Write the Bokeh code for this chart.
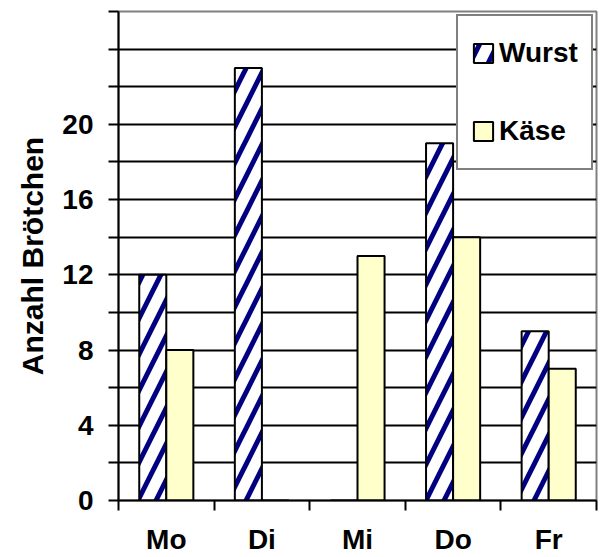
from bokeh.plotting import figure
from bokeh.models import FixedTicker, Range1d, Legend, LegendItem
from bokeh.embed import file_html
from bokeh.resources import INLINE

days = ["Mo", "Di", "Mi", "Do", "Fr"]
wurst = [12, 23, 0, 19, 9]
kaese = [8, 0, 13, 14, 7]
y_ticks = list(range(0, 27, 2))
y_labels = {t: (str(t) if t % 4 == 0 and t <= 20 else "") for t in y_ticks}

FONT = "Liberation Sans"
bw = 0.283
centers = [i + 0.5 for i in range(len(days))]

p = figure(width=600, height=557, output_backend="svg", toolbar_location=None,
           x_range=Range1d(0, len(days)), y_range=Range1d(0, 26),
           min_border_left=118, min_border_right=4, min_border_top=11, min_border_bottom=57)
p.background_fill_color = "white"
p.border_fill_color = "white"
p.outline_line_color = "#808080"
p.outline_line_width = 2

r_w = p.vbar(x=[c - bw / 2 for c in centers], top=wurst, width=bw, bottom=0,
             fill_color="white", hatch_pattern="/", hatch_color="#000080",
             hatch_scale=36, hatch_weight=5, line_color="black", line_width=2)
r_k = p.vbar(x=[c + bw / 2 for c in centers], top=kaese, width=bw, bottom=0,
             fill_color="#FFFFCC", line_color="black", line_width=2)

# x axis
p.xgrid.visible = False
xa = p.xaxis[0]
xa.ticker = FixedTicker(ticks=centers, minor_ticks=list(range(len(days) + 1)))
xa.major_label_overrides = {c: d for c, d in zip(centers, days)}
xa.major_tick_line_color = None
xa.major_tick_out = 10
xa.major_tick_in = 0
xa.minor_tick_out = 10
xa.minor_tick_in = 0
xa.minor_tick_line_color = "black"
xa.minor_tick_line_width = 2
xa.axis_line_color = "black"
xa.axis_line_width = 2
xa.major_label_standoff = 13
xa.major_label_text_font = FONT
xa.major_label_text_font_style = "bold"
xa.major_label_text_font_size = "28px"
xa.major_label_text_color = "black"

# y axis
ya = p.yaxis[0]
ya.ticker = FixedTicker(ticks=y_ticks)
ya.major_label_overrides = y_labels
ya.major_tick_out = 10
ya.major_tick_in = 0
ya.major_tick_line_width = 2
ya.major_tick_line_color = "black"
ya.minor_tick_line_color = None
ya.axis_line_color = "black"
ya.axis_line_width = 2
ya.major_label_standoff = 15
ya.major_label_text_font = FONT
ya.major_label_text_font_style = "bold"
ya.major_label_text_font_size = "28px"
ya.major_label_text_color = "black"
ya.axis_label = "Anzahl Brötchen"
ya.axis_label_text_font = FONT
ya.axis_label_text_font_style = "bold"
ya.axis_label_text_font_size = "30px"
ya.axis_label_text_color = "black"
ya.axis_label_standoff = 10

p.ygrid.ticker = FixedTicker(ticks=y_ticks)
p.ygrid.grid_line_color = "black"
p.ygrid.grid_line_width = 2

legend = Legend(items=[LegendItem(label="Wurst", renderers=[r_w]),
                       LegendItem(label="Käse", renderers=[r_k])],
                location=(338, 330))
legend.border_line_color = "black"
legend.border_line_width = 2
legend.background_fill_color = "white"
legend.background_fill_alpha = 1
legend.label_text_font = FONT
legend.label_text_font_style = "bold"
legend.label_text_font_size = "28px"
legend.label_text_color = "black"
legend.glyph_width = 24
legend.glyph_height = 24
legend.label_height = 48
legend.label_standoff = 4
legend.padding = 13
legend.spacing = 30
legend.margin = 0
p.add_layout(legend, "center")

open("out.html", "w").write(file_html(p, INLINE))
